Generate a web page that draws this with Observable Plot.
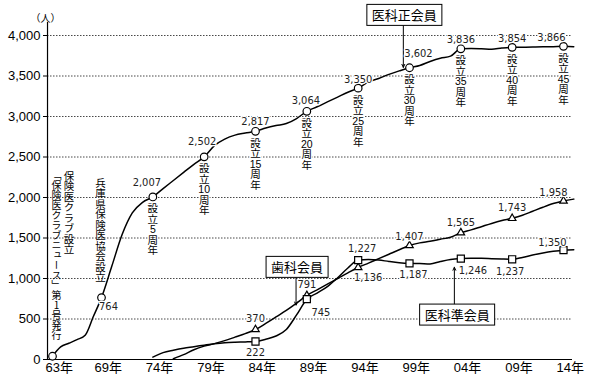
<!DOCTYPE html>
<html><head><meta charset="utf-8">
<script src="https://cdn.jsdelivr.net/npm/d3@7"></script>
<script src="https://cdn.jsdelivr.net/npm/@observablehq/plot@0.6"></script>
<style>body{margin:0;background:#fff} svg{display:block}</style>
</head><body><div id="chart"></div>
<script>
// ---- data ----
const seikaiYears = [1963,1964,1965,1966,1967,1968,1969,1970,1971,1972,1973,1974,1975,1976,1977,1978,1979,1980,1981,1982,1983,1984,1985,1986,1987,1988,1989,1990,1991,1992,1993,1994,1995,1996,1997,1998,1999,2000,2001,2002,2003,2004,2005,2006,2007,2008,2009,2010,2011,2012,2013,2014,2015];
const seikaiValues = [40,155,200,245,300,530,764,1150,1540,1810,1940,2007,2110,2210,2310,2410,2502,2640,2720,2770,2795,2817,2857,2888,2913,2975,3064,3120,3180,3240,3300,3350,3427,3470,3520,3563,3602,3630,3680,3720,3745,3836,3838,3835,3830,3845,3854,3855,3858,3860,3862,3866,3862];

const shikaYears = [1976,1977,1978,1979,1980,1981,1982,1983,1984,1985,1986,1987,1988,1989,1990,1991,1992,1993,1994,1995,1996,1997,1998,1999,2000,2001,2002,2003,2004,2005,2006,2007,2008,2009,2010,2011,2012,2013,2014,2015];
const shikaValues = [10,60,121,165,196,233,276,320,370,445,525,605,695,791,860,930,1000,1070,1136,1190,1245,1300,1355,1407,1440,1460,1485,1510,1565,1600,1640,1680,1715,1743,1780,1830,1880,1925,1958,1980];

const junYears = [1974,1975,1976,1977,1978,1979,1980,1981,1982,1983,1984,1985,1986,1987,1988,1989,1990,1991,1992,1993,1994,1995,1996,1997,1998,1999,2000,2001,2002,2003,2004,2005,2006,2007,2008,2009,2010,2011,2012,2013,2014,2015];
const junValues = [30,85,115,140,158,177,195,208,214,217,222,250,290,370,550,745,820,900,1010,1130,1227,1235,1228,1210,1195,1187,1185,1180,1210,1235,1246,1250,1250,1245,1240,1237,1260,1290,1315,1335,1350,1355];

const seikaiMarkerYears = [1963,1969,1974,1979,1984,1989,1994,1999,2004,2009,2014];
const lowerMarkerYears = [1984,1989,1994,1999,2004,2009,2014];
const anniversaryYears = [1974,1979,1984,1989,1994,1999,2004,2009,2014];
const anniversaryNumbers = [5,10,15,20,25,30,35,40,45];

const xTickYears = [1963,1969,1974,1979,1984,1989,1994,1999,2004,2009,2014];
const xTickLabels = ["63年","69年","74年","79年","84年","89年","94年","99年","04年","09年","14年"];
const yTicks = [0,500,1000,1500,2000,2500,3000,3500,4000];
const gridValues = [500,1000,1500,2000,2500,3000,3500,4000];

const eventLabels = ["保険医クラブ設立","「保険医クラブニュース」第1号発行","兵庫県保険医協会設立"];
const eventYears = [1963,1963,1969];

const calloutLabels = ["医科正会員","歯科会員","医科準会員"];
const calloutYears = [1998.5,1988.05,2003.64];
const calloutValues = [4238,1127,538];
const calloutArrowYears = [1998.4,1987.95,2003.37];
const calloutArrowFrom = [4126,1023,651];
const calloutArrowTo = [3606,672,1139];

// ---- tables ----
const seikai = seikaiYears.map((year,i)=>({year, value: seikaiValues[i]}));
const shika = shikaYears.map((year,i)=>({year, value: shikaValues[i]}));
const jun = junYears.map((year,i)=>({year, value: junValues[i]}));
const seikaiMarkers = seikai.filter(d=>seikaiMarkerYears.includes(d.year));
const shikaMarkers = shika.filter(d=>lowerMarkerYears.includes(d.year));
const junMarkers = jun.filter(d=>lowerMarkerYears.includes(d.year));
const anniversaries = anniversaryYears.map((year,i)=>({year, value: seikai.find(d=>d.year===year).value, text:`設\n立\n${anniversaryNumbers[i]}\n周\n年`}));
const callouts = calloutLabels.map((label,i)=>({label, year: calloutYears[i], value: calloutValues[i], ax: calloutArrowYears[i], a1: calloutArrowFrom[i], a2: calloutArrowTo[i]}));

const fmt = d3.format(",");

// ---- label placement (layout) ----
const seikaiOff = {1969:[7,9],1974:[-6,-14],1979:[-2,-15],1984:[0,-10],1989:[-1,-11],1994:[0,-9],1999:[9,-14],2004:[0,-9],2009:[0,-9],2014:[-12,-9]};
const shikaOff = {1984:[0,-11],1989:[0,-11],1994:[10,10],1999:[0,-9],2004:[0,-10],2009:[0,-11],2014:[-10,-8]};
const junOff = {1984:[0,11],1989:[14,13],1994:[4,-12],1999:[4,11],2004:[12,12],2009:[-2,12],2014:[-11,-8]};

const JP = "'Noto Sans CJK JP', sans-serif";
const MIX = "'Liberation Sans','Noto Sans CJK JP',sans-serif";
const NUM = "'Liberation Sans Narrow','DejaVu Sans Condensed','Liberation Sans', sans-serif";

function valueLabels(markers, off){
  return markers.filter(d=>off[d.year]).map(d=>Plot.text([d], {
    x:"year", y:"value", text: d=>fmt(d.value), dx: off[d.year][0], dy: off[d.year][1],
    fontSize: 11, fontFamily: NUM, fill:"#222", stroke:"white", strokeWidth: 2.5
  }));
}

const eventOpts = [
  {dx:16.5, dy:135, fontSize:10.5},
  {dx:4, dy:135, fontSize:10},
  {dx:-1, dy:142, fontSize:10.5}
];

const plot = Plot.plot({
  width: 600, height: 384,
  marginTop: 35, marginBottom: 25, marginLeft: 47, marginRight: 28,
  style: {fontFamily: MIX, fontSize: "13px", color: "black", background: "white", overflow: "visible"},
  x: {type: "linear", domain: [1963,1969,2014], range: [52,101,563], axis: null},
  y: {domain: [0,4000], ticks: yTicks, tickFormat: fmt, tickSize: 4, tickPadding: 3, label: null},
  marks: [
    Plot.ruleY(gridValues, {stroke:"#333", strokeDasharray:"1.5,1.5", strokeWidth: 0.9}),
    Plot.ruleY([0], {stroke:"black", strokeWidth:1.2}),
    Plot.ruleX([1962.39], {y1: 0, y2: 4160, stroke:"black", strokeWidth:1.2}),
    Plot.text(xTickYears, {x: d=>d, text: (d,i)=>xTickLabels[i], frameAnchor:"bottom", textAnchor:"start", dx:-7, dy:12, fontSize:13}),
    Plot.text(["（人）"], {frameAnchor:"top-left", dx:-17, dy:-21, fontSize:10, fontFamily: JP}),
    // event annotations (vertical writing)
    ...eventLabels.map((t,i)=>Plot.text([{year: eventYears[i], t}], {x:"year", text:"t", frameAnchor:"top", textAnchor:"start", fontFamily: JP, ...eventOpts[i]})),
    // anniversary labels
    Plot.text(anniversaries, {x:"year", y:"value", text:"text", lineAnchor:"top", dy: 8, fontSize: 10.5, lineHeight: 1, fontFamily: MIX, stroke:"white", strokeWidth: 2.5, fill:"black"}),
    // lines
    Plot.line(seikai, {x:"year", y:"value", curve:"monotone-x", stroke:"black", strokeWidth:1.5}),
    Plot.line(shika, {x:"year", y:"value", curve:"monotone-x", stroke:"black", strokeWidth:1.5}),
    Plot.line(jun, {x:"year", y:"value", curve:"monotone-x", stroke:"black", strokeWidth:1.5}),
    // arrows
    Plot.arrow(callouts, {x1:"ax", x2:"ax", y1:"a1", y2:"a2", stroke:"black", strokeWidth:1, headLength:5, headAngle:50}),
    // markers
    Plot.dot(seikaiMarkers, {x:"year", y:"value", r:3.8, fill:"white", stroke:"black", strokeWidth:1.2}),
    Plot.dot(shikaMarkers, {x:"year", y:"value", symbol:"triangle", r:2.8, fill:"white", stroke:"black", strokeWidth:1.2}),
    Plot.dot(junMarkers, {x:"year", y:"value", symbol:"square", r:4, fill:"white", stroke:"black", strokeWidth:1.2}),
    // value labels
    ...valueLabels(seikaiMarkers, seikaiOff),
    ...valueLabels(shikaMarkers, shikaOff),
    ...valueLabels(junMarkers, junOff),
    // callout texts
    Plot.text(callouts, {x:"year", y:"value", text:"label", fontSize:13, fontFamily: JP, fill:"black"})
  ]
});
document.getElementById("chart").appendChild(plot);

plot.querySelectorAll("text").forEach(t => {
  // vertical writing for the event annotations
  if (eventLabels.includes(t.textContent)) {
    t.style.writingMode = "vertical-rl";
    t.style.textOrientation = "upright";
    t.setAttribute("y", "0");
  }
  // boxes behind callout labels
  if (calloutLabels.includes(t.textContent)) {
    const b = t.getBBox();
    const r = document.createElementNS("http://www.w3.org/2000/svg","rect");
    const px = 5, py = 2;
    r.setAttribute("x", b.x - px); r.setAttribute("y", b.y - py + 1);
    r.setAttribute("width", b.width + 2*px); r.setAttribute("height", b.height + 2*py - 2);
    r.setAttribute("fill","white"); r.setAttribute("stroke","black"); r.setAttribute("stroke-width","1");
    if (t.getAttribute("transform")) r.setAttribute("transform", t.getAttribute("transform"));
    t.parentNode.insertBefore(r, t);
  }
});
</script>
</body></html>
